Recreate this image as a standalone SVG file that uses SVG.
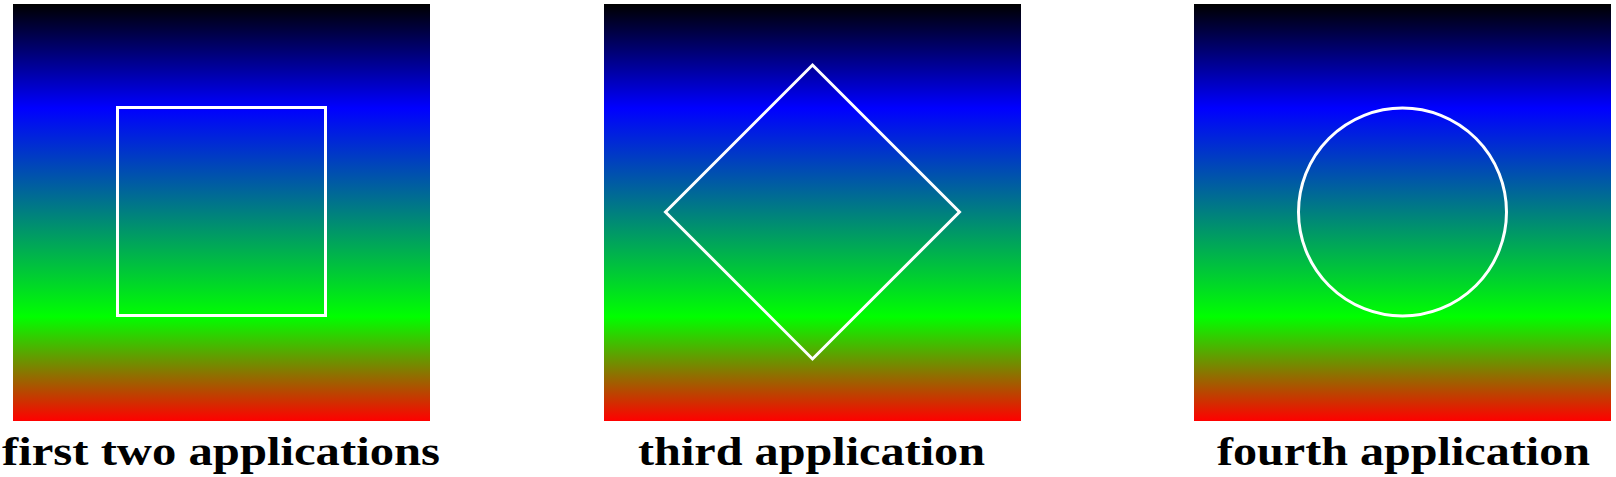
<svg xmlns="http://www.w3.org/2000/svg" width="1616" height="477" viewBox="0 0 1616 477">
  <defs>
    <linearGradient id="shade" x1="0" y1="0" x2="0" y2="1">
      <stop offset="0" stop-color="#000000"/>
      <stop offset="0.25" stop-color="#0000ff"/>
      <stop offset="0.75" stop-color="#00ff00"/>
      <stop offset="1" stop-color="#ff0000"/>
    </linearGradient>
  </defs>
  <style>
    .panel { fill: url(#shade); }
    .shape { fill: none; stroke: #ffffff; stroke-width: 3; }
    .label { font-family: "Liberation Serif", "DejaVu Serif", serif; font-weight: bold; font-size: 41px; fill: #000000; text-anchor: middle; }
  </style>
  <rect width="1616" height="477" fill="#ffffff"/>
  <g id="panel1">
    <rect class="panel" x="13" y="4" width="417" height="417"/>
    <rect class="shape" x="117.5" y="107.5" width="208" height="208"/>
    <text class="label" x="221" y="465" textLength="438" lengthAdjust="spacingAndGlyphs">first two applications</text>
  </g>
  <g id="panel2">
    <rect class="panel" x="604" y="4" width="417" height="417"/>
    <polygon class="shape" points="812.5,65 959.5,212 812.5,359 665.5,212"/>
    <text class="label" x="811.5" y="465" textLength="347" lengthAdjust="spacingAndGlyphs">third application</text>
  </g>
  <g id="panel3">
    <rect class="panel" x="1194" y="4" width="417" height="417"/>
    <circle class="shape" cx="1402.5" cy="212" r="104"/>
    <text class="label" x="1403.5" y="465" textLength="373" lengthAdjust="spacingAndGlyphs">fourth application</text>
  </g>
  <g id="connectors"/>
</svg>
